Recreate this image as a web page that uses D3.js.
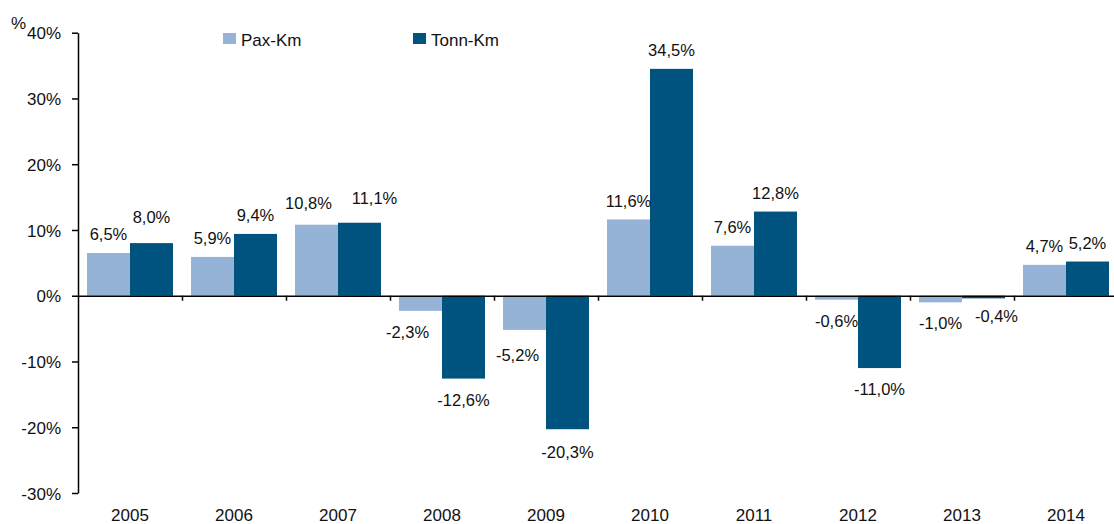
<!DOCTYPE html>
<html>
<head>
<meta charset="utf-8">
<script src="https://cdn.jsdelivr.net/npm/d3@7"></script>
<style>
  body { margin: 0; background: #fff; }
  svg { display: block; font-family: "Liberation Sans", Arial, sans-serif; }
</style>
</head>
<body>
<svg id="chart" width="1114" height="524"></svg>
<script>
var years = ["2005", "2006", "2007", "2008", "2009", "2010", "2011", "2012", "2013", "2014"];
var paxKm = [6.5, 5.9, 10.8, -2.3, -5.2, 11.6, 7.6, -0.6, -1.0, 4.7];
var tonnKm = [8.0, 9.4, 11.1, -12.6, -20.3, 34.5, 12.8, -11.0, -0.4, 5.2];
var seriesNames = ["Pax-Km", "Tonn-Km"];
var yTicks = [-30, -20, -10, 0, 10, 20, 30, 40];

var colors = ["#95b3d7", "#00527f"];

// hand placed labels in the original, moved off their bars to stay apart
var labelNudge = {
    "2005|1": [0, -8],
    "2007|0": [-8, -3],
    "2007|1": [15, -6],
    "2008|0": [-13, 0],
    "2009|0": [-7, 4],
    "2009|1": [0, 2],
    "2013|1": [13, -3]
};

var svg = d3.select("#chart");
var plotLeft = 78, plotRight = 1118, plotTop = 32.7, plotBottom = 493;

var locale = d3.formatLocale({ decimal: ",", thousands: ".", grouping: [3], currency: ["", ""], minus: "-" });
var fmt = locale.format(".1f");

var x = d3.scaleBand().domain(years).range([plotLeft, plotRight]).paddingInner(18 / 104).paddingOuter(9 / 104);
var xs = d3.scaleBand().domain([0, 1]).range([0, x.bandwidth()]);
var y = d3.scaleLinear().domain([-30, 40]).range([plotBottom, plotTop]);

var rows = years.map(function (yr, i) {
    return { year: yr, values: [paxKm[i], tonnKm[i]] };
});

function cells(d) {
    return d.values.map(function (v, k) {
        var n = labelNudge[d.year + "|" + k] || [0, 0];
        return { k: k, v: v, dx: n[0], dy: n[1] };
    });
}

// bars
var groups = svg.append("g").selectAll("g")
    .data(rows)
    .join("g")
    .attr("transform", function (d) { return "translate(" + x(d.year) + ",0)"; });

groups.selectAll("rect")
    .data(cells)
    .join("rect")
    .attr("x", function (d) { return xs(d.k); })
    .attr("width", xs.bandwidth())
    .attr("y", function (d) { return y(Math.max(0, d.v)); })
    .attr("height", function (d) { return Math.abs(y(d.v) - y(0)); })
    .attr("fill", function (d) { return colors[d.k]; });

groups.selectAll("text")
    .data(cells)
    .join("text")
    .attr("x", function (d) { return xs(d.k) + xs.bandwidth() / 2 + d.dx; })
    .attr("y", function (d) { return (d.v >= 0 ? y(d.v) - 12.5 : y(d.v) + 27) + d.dy; })
    .attr("text-anchor", "middle")
    .attr("font-size", 16.5)
    .attr("fill", "#111")
    .text(function (d) { return fmt(d.v) + "%"; });

// y axis
var yAxis = svg.append("g")
    .attr("transform", "translate(" + plotLeft + ",0)")
    .call(d3.axisLeft(y).tickValues(yTicks).tickFormat(function (d) { return d + "%"; }).tickSize(6).tickSizeOuter(0).tickPadding(11));
yAxis.attr("font-family", null).attr("font-size", null);
yAxis.select(".domain").attr("stroke", "#000").attr("stroke-width", 1.5);
yAxis.selectAll(".tick line").attr("stroke", "#000").attr("stroke-width", 1.5);
yAxis.selectAll(".tick text").attr("font-size", 17).attr("fill", "#111").attr("dy", "0.36em");

// x axis at zero with ticks at category boundaries
var xb = d3.scaleLinear().domain([0, years.length]).range([plotLeft, plotRight]);
var xAxis = svg.append("g")
    .attr("transform", "translate(0," + y(0) + ")")
    .call(d3.axisBottom(xb).tickValues(d3.range(1, years.length + 1)).tickFormat("").tickSize(5).tickSizeOuter(0));
xAxis.select(".domain").attr("stroke", "#000").attr("stroke-width", 1.5);
xAxis.selectAll(".tick line").attr("stroke", "#000").attr("stroke-width", 1.5);

// year labels
svg.append("g").selectAll("text")
    .data(years)
    .join("text")
    .attr("x", function (d) { return x(d) + x.bandwidth() / 2; })
    .attr("y", 521)
    .attr("text-anchor", "middle")
    .attr("font-size", 17)
    .attr("fill", "#111")
    .text(function (d) { return d; });

// unit label
svg.append("text")
    .attr("x", 11)
    .attr("y", 29)
    .attr("font-size", 17)
    .attr("fill", "#111")
    .text("%");

// legend
var legendX = [223, 413];
var legend = svg.append("g").selectAll("g")
    .data(seriesNames)
    .join("g")
    .attr("transform", function (d, i) { return "translate(" + legendX[i] + ",33)"; });
legend.append("rect").attr("width", 13).attr("height", 11).attr("fill", function (d, i) { return colors[i]; });
legend.append("text").attr("x", 18).attr("y", 12.5).attr("font-size", 17).attr("fill", "#111").text(function (d) { return d; });
</script>
</body>
</html>
